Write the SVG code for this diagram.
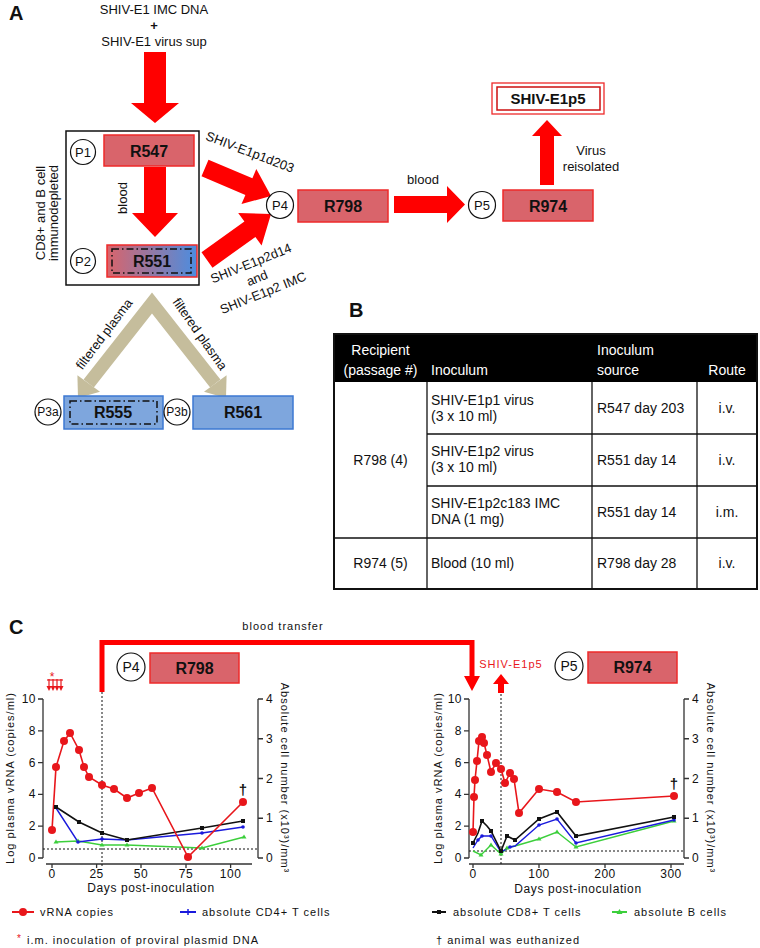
<svg xmlns="http://www.w3.org/2000/svg" width="760" height="948" viewBox="0 0 760 948">
<defs>
<linearGradient id="gp" x1="0" y1="0" x2="1" y2="0"><stop offset="0" stop-color="#d9646b"/><stop offset="1" stop-color="#4b8de0"/></linearGradient>
<style>
text{font-family:"Liberation Sans",Arial,sans-serif;fill:#111}
.lbl{font-size:13px}
.mid{text-anchor:middle}
.nb{font-size:16px;font-weight:bold;text-anchor:middle}
.pc{font-size:13px;text-anchor:middle}
.red{fill:#d9646b;stroke:#ee2a2a;stroke-width:1.5}
.blu{fill:#7ea6dd;stroke:#3d78d2;stroke-width:1.5}
.cir{fill:#fff;stroke:#111;stroke-width:1.2}
.dd{fill:none;stroke:#111;stroke-width:1.5;stroke-dasharray:7 3 1.5 3}
.arr{fill:#ff0000}
.tan{fill:#c5bd9c}
.tb{font-size:14px}
.th{font-size:14px;fill:#fff}
.ax{stroke:#333;stroke-width:1.3;fill:none}
.tk{font-size:12px;letter-spacing:0.5px}
.sp{font-size:11px;letter-spacing:1px}
.dl{stroke:#111;stroke-width:1;stroke-dasharray:2 2;fill:none}
.lr{stroke:#e8161b;stroke-width:1.6;fill:none}
.lk{stroke:#111;stroke-width:1.6;fill:none}
.lb{stroke:#1a1adc;stroke-width:1.4;fill:none}
.lg{stroke:#3ccf3c;stroke-width:1.4;fill:none}
.pr{fill:#e8161b}
.pk{fill:#111}
.pb{fill:#1a1adc}
.pg{fill:#3ccf3c}
</style>
</defs>
<rect width="760" height="948" fill="#fff"/>

<!-- Panel labels -->
<text x="9" y="20" font-size="20" font-weight="bold">A</text>
<text x="349" y="317" font-size="20" font-weight="bold">B</text>
<text x="9" y="634" font-size="20" font-weight="bold">C</text>

<!-- ===== Panel A ===== -->
<g id="source">
<text class="lbl mid" x="154" y="14">SHIV-E1 IMC DNA</text>
<text class="mid" x="154" y="30" font-size="13" font-weight="bold">+</text>
<text class="lbl mid" x="154" y="46">SHIV-E1 virus sup</text>
</g>

<g id="depleted-box">
<rect x="66" y="131" width="133" height="154" fill="none" stroke="#111" stroke-width="1.5"/>
<text class="lbl mid" transform="translate(44.5,213) rotate(-90)">CD8+ and B cell</text>
<text class="lbl mid" transform="translate(57.5,213) rotate(-90)">immunodepleted</text>
</g>

<g id="connectors">
<polygon class="arr" points="144,52 166,52 166,103 179,103 155,123 131,103 144,103"/>
<polygon class="arr" points="144,167 166,167 166,213 178,213 155,237 132,213 144,213"/>
<text class="lbl mid" transform="translate(126.5,198) rotate(-90)">blood</text>
<polygon class="arr" points="208.5,159.7 252.4,178.3 256.3,169.1 271,196 241.5,204.1 245.4,194.9 201.5,176.3"/>
<text class="lbl mid" transform="translate(250,152) rotate(21)" dy="4.5">SHIV-E1p1d203</text>
<polygon class="arr" points="201.5,252.3 244.4,221.5 238.2,213 271,214 261.6,245.4 255.4,236.9 212.5,267.7"/>
<g transform="translate(257,278) rotate(-22)">
<text class="lbl mid" x="0" y="-11.5">SHIV-E1p2d14</text>
<text class="lbl mid" x="0" y="4.5">and</text>
<text class="lbl mid" x="0" y="20.5">SHIV-E1p2 IMC</text>
</g>
<polygon class="arr" points="394,196 447,196 447,186 465,204.5 447,223 447,213 394,213"/>
<text class="lbl mid" x="423" y="184">blood</text>
<polygon class="arr" points="540,185 540,136 532,136 547,120 562,136 554,136 554,185"/>
<text class="lbl mid" x="591" y="155">Virus</text>
<text class="lbl mid" x="591" y="171">reisolated</text>
<polyline points="88.7,383.5 152,303 215.3,383.5" fill="none" stroke="#c5bd9c" stroke-width="13" stroke-linejoin="miter"/>
<polygon class="tan" points="78,398 77.4,375.2 100,391.8"/>
<polygon class="tan" points="226,398 204,391.8 226.6,375.2"/>
<text class="lbl mid" transform="translate(104,334) rotate(-53)" dy="4.5">filtered plasma</text>
<text class="lbl mid" transform="translate(200,334) rotate(55)" dy="4.5">filtered plasma</text>
</g>

<g id="R547">
<circle class="cir" cx="83" cy="152" r="12.5"/><text class="pc" x="83" y="157">P1</text>
<rect class="red" x="104" y="135" width="90" height="31"/>
<text class="nb" x="149" y="157">R547</text>
</g>
<g id="R551">
<circle class="cir" cx="83" cy="261" r="12.5"/><text class="pc" x="83" y="266">P2</text>
<rect x="107" y="245" width="90" height="32" fill="url(#gp)" stroke="#ee2a2a" stroke-width="1.5"/>
<rect class="dd" x="112" y="249" width="79" height="24"/>
<text class="nb" x="152" y="267">R551</text>
</g>
<g id="R798">
<circle class="cir" cx="280" cy="205" r="13.5"/><text class="pc" x="280" y="210">P4</text>
<rect class="red" x="298" y="190" width="90" height="32"/>
<text class="nb" x="343" y="212">R798</text>
</g>
<g id="R974">
<circle class="cir" cx="482" cy="205" r="13.5"/><text class="pc" x="482" y="210">P5</text>
<rect class="red" x="503" y="190" width="90" height="31"/>
<text class="nb" x="548" y="212">R974</text>
</g>
<g id="SHIV-E1p5">
<rect x="492" y="83" width="112" height="31" fill="#fff" stroke="#ee2a2a" stroke-width="1.3"/>
<rect x="497" y="87" width="103" height="23" fill="none" stroke="#cc1111" stroke-width="1.5"/>
<text x="548" y="104" font-size="15" font-weight="bold" text-anchor="middle">SHIV-E1p5</text>
</g>
<g id="R555">
<circle class="cir" cx="48" cy="412" r="13"/><text class="mid" x="48" y="416" font-size="12">P3a</text>
<rect class="blu" x="64" y="396" width="99" height="33"/>
<rect class="dd" x="70" y="401" width="87" height="23"/>
<text class="nb" x="113" y="418">R555</text>
</g>
<g id="R561">
<circle class="cir" cx="177" cy="412" r="13"/><text class="mid" x="177" y="416" font-size="12">P3b</text>
<rect class="blu" x="193" y="396" width="100" height="33"/>
<text class="nb" x="243" y="418">R561</text>
</g>

<!-- ===== Panel B table ===== -->
<g id="table">
<rect x="334" y="334" width="423" height="48" fill="#000"/>
<text class="th mid" x="380.5" y="355">Recipient</text>
<text class="th mid" x="380.5" y="375">(passage #)</text>
<text class="th" x="431" y="375">Inoculum</text>
<text class="th" x="597" y="355">Inoculum</text>
<text class="th" x="597" y="375">source</text>
<text class="th mid" x="727" y="375">Route</text>
<g stroke="#111" stroke-width="1.3">
<line x1="427" y1="382" x2="427" y2="589"/>
<line x1="592" y1="382" x2="592" y2="589"/>
<line x1="697" y1="382" x2="697" y2="589"/>
<line x1="427" y1="434" x2="757" y2="434"/>
<line x1="427" y1="486" x2="757" y2="486"/>
<line x1="334" y1="538" x2="757" y2="538"/>
</g>
<rect x="334" y="334" width="423" height="255" fill="none" stroke="#111" stroke-width="2"/>
<text class="tb mid" x="380.5" y="465">R798 (4)</text>
<text class="tb" x="431" y="405">SHIV-E1p1 virus</text>
<text class="tb" x="431" y="421">(3 x 10 ml)</text>
<text class="tb" x="597" y="413">R547 day 203</text>
<text class="tb mid" x="727" y="413">i.v.</text>
<text class="tb" x="431" y="456">SHIV-E1p2 virus</text>
<text class="tb" x="431" y="472">(3 x 10 ml)</text>
<text class="tb" x="597" y="465">R551 day 14</text>
<text class="tb mid" x="727" y="465">i.v.</text>
<text class="tb" x="431" y="508">SHIV-E1p2c183 IMC</text>
<text class="tb" x="431" y="524">DNA (1 mg)</text>
<text class="tb" x="597" y="517">R551 day 14</text>
<text class="tb mid" x="727" y="517">i.m.</text>
<text class="tb mid" x="380.5" y="568">R974 (5)</text>
<text class="tb" x="431" y="568">Blood (10 ml)</text>
<text class="tb" x="597" y="568">R798 day 28</text>
<text class="tb mid" x="727" y="568">i.v.</text>
</g>

<!-- ===== Panel C ===== -->
<g id="blood-transfer">
<text class="sp mid" x="283" y="630" letter-spacing="1.7">blood transfer</text>
<polyline points="102,692 102,642.5 472,642.5 472,678" fill="none" stroke="#ff0000" stroke-width="5"/>
<polygon class="arr" points="464,676 480,676 472,691"/>
<text class="sp mid" x="511" y="668" style="fill:#e8161b" letter-spacing="1.5">SHIV-E1p5</text>
<polygon class="arr" points="498,693 504,693 504,684 509,684 501,674 493,684 498,684"/>
</g>
<g id="C-P4">
<circle class="cir" cx="131" cy="667" r="14"/><text class="mid" x="131" y="672" font-size="14">P4</text>
<rect class="red" x="150" y="653" width="89" height="30"/>
<text class="nb" x="194.5" y="674">R798</text>
</g>
<g id="C-P5">
<circle class="cir" cx="569" cy="666" r="14"/><text class="mid" x="569" y="671" font-size="14">P5</text>
<rect class="red" x="588" y="652" width="89" height="31"/>
<text class="nb" x="632.5" y="673">R974</text>
</g>

<!-- left chart -->
<g id="chart-R798">
<g fill="#e8161b" stroke="#e8161b">
<text x="52" y="681" font-size="12" text-anchor="middle" style="fill:#e8161b" stroke="none">*</text>
<g stroke-width="1.2"><line x1="49" y1="679" x2="49" y2="688"/><line x1="53" y1="679" x2="53" y2="688"/><line x1="57" y1="679" x2="57" y2="688"/><line x1="61" y1="679" x2="61" y2="688"/><line x1="47" y1="680" x2="63" y2="680"/></g>
<g stroke="none"><polygon points="46.5,686 51.5,686 49,691"/><polygon points="50.5,686 55.5,686 53,691"/><polygon points="54.5,686 59.5,686 57,691"/><polygon points="58.5,686 63.5,686 61,691"/></g>
</g>
<path class="ax" d="M43,699 V858 M38,699 H43 M38,730.8 H43 M38,762.6 H43 M38,794.4 H43 M38,826.2 H43 M38,858 H43"/>
<path class="ax" d="M258,699 V858 M258,699 H263 M258,738.75 H263 M258,778.5 H263 M258,818.25 H263 M258,858 H263" stroke="#555"/>
<path class="ax" d="M46,864 H252 M52,864 V868 M96.6,864 V868 M141,864 V868 M186,864 V868 M230.6,864 V868"/>
<text class="tk" x="36" y="862" text-anchor="end">0</text>
<text class="tk" x="36" y="830" text-anchor="end">2</text>
<text class="tk" x="36" y="798" text-anchor="end">4</text>
<text class="tk" x="36" y="767" text-anchor="end">6</text>
<text class="tk" x="36" y="735" text-anchor="end">8</text>
<text class="tk" x="36" y="703" text-anchor="end">10</text>
<text class="tk" x="266" y="862">0</text>
<text class="tk" x="266" y="822">1</text>
<text class="tk" x="266" y="783">2</text>
<text class="tk" x="266" y="743">3</text>
<text class="tk" x="266" y="703">4</text>
<text class="tk mid" x="52" y="878">0</text>
<text class="tk mid" x="96.6" y="878">25</text>
<text class="tk mid" x="141" y="878">50</text>
<text class="tk mid" x="186" y="878">75</text>
<text class="tk mid" x="230.6" y="878">100</text>
<text class="mid" x="151" y="892" font-size="12" letter-spacing="0.6">Days post-inoculation</text>
<text class="sp mid" transform="translate(14,778) rotate(-90)">Log plasma vRNA (copies/ml)</text>
<text class="sp mid" transform="translate(281,778) rotate(90)" letter-spacing="1.3">Absolute cell number (x10³)/mm³</text>
<line class="dl" x1="43" y1="849" x2="258" y2="849"/>
<line class="dl" x1="102" y1="692" x2="102" y2="866"/>
<path class="lg" d="M56,842 L78,841 L102,845 L127,845 L202,848 L244,837"/>
<path class="lb" d="M56,808 L78,842 L102,839 L127,840 L202,833 L243,827"/>
<path class="lk" d="M56,807 L79,822 L102,833 L127,840 L202,828 L243,821"/>
<path class="lr" d="M52,830 L56,767 L64,741 L70,733 L79,750 L84,767 L89,777 L102,785 L114,789 L127,798 L139,793 L152,788 L188,857 L243,802"/>
<g class="pg"><polygon points="56,839.5 58.5,843.5 53.5,843.5"/><polygon points="78,838.5 80.5,842.5 75.5,842.5"/><polygon points="102,842.5 104.5,846.5 99.5,846.5"/><polygon points="127,842.5 129.5,846.5 124.5,846.5"/><polygon points="202,845.5 204.5,849.5 199.5,849.5"/><polygon points="244,834.5 246.5,838.5 241.5,838.5"/></g>
<g class="pb"><circle cx="78" cy="842" r="1.8"/><circle cx="102" cy="839" r="1.8"/><circle cx="127" cy="840" r="1.8"/><circle cx="202" cy="833" r="1.8"/><circle cx="243" cy="827" r="1.8"/></g>
<g class="pk"><rect x="54" y="805" width="4" height="4"/><rect x="77" y="820" width="4" height="4"/><rect x="100" y="831" width="4" height="4"/><rect x="125" y="838" width="4" height="4"/><rect x="200" y="826" width="4" height="4"/><rect x="241" y="819" width="4" height="4"/></g>
<g class="pr"><circle cx="52" cy="830" r="4"/><circle cx="56" cy="767" r="4"/><circle cx="64" cy="741" r="4"/><circle cx="70" cy="733" r="4"/><circle cx="79" cy="750" r="4"/><circle cx="84" cy="767" r="4"/><circle cx="89" cy="777" r="4"/><circle cx="102" cy="785" r="4"/><circle cx="114" cy="789" r="4"/><circle cx="127" cy="798" r="4"/><circle cx="139" cy="793" r="4"/><circle cx="152" cy="788" r="4"/><circle cx="188" cy="857" r="4"/><circle cx="243" cy="802" r="4"/></g>
<text class="mid" x="243" y="795" font-size="15" font-weight="bold">†</text>
</g>

<!-- right chart -->
<g id="chart-R974">
<path class="ax" d="M469,699 V858 M464,699 H469 M464,730.8 H469 M464,762.6 H469 M464,794.4 H469 M464,826.2 H469 M464,858 H469"/>
<path class="ax" d="M684,699 V858 M684,699 H689 M684,738.75 H689 M684,778.5 H689 M684,818.25 H689 M684,858 H689" stroke="#555"/>
<path class="ax" d="M469,864 H684 M473,864 V868 M539,864 V868 M605,864 V868 M671,864 V868"/>
<text class="tk" x="462" y="862" text-anchor="end">0</text>
<text class="tk" x="462" y="830" text-anchor="end">2</text>
<text class="tk" x="462" y="798" text-anchor="end">4</text>
<text class="tk" x="462" y="767" text-anchor="end">6</text>
<text class="tk" x="462" y="735" text-anchor="end">8</text>
<text class="tk" x="462" y="703" text-anchor="end">10</text>
<text class="tk" x="692" y="862">0</text>
<text class="tk" x="692" y="822">1</text>
<text class="tk" x="692" y="783">2</text>
<text class="tk" x="692" y="743">3</text>
<text class="tk" x="692" y="703">4</text>
<text class="tk mid" x="473" y="878">0</text>
<text class="tk mid" x="539" y="878">100</text>
<text class="tk mid" x="605" y="878">200</text>
<text class="tk mid" x="671" y="878">300</text>
<text class="mid" x="578" y="893" font-size="12" letter-spacing="0.6">Days post-inoculation</text>
<text class="sp mid" transform="translate(442,778) rotate(-90)">Log plasma vRNA (copies/ml)</text>
<text class="sp mid" transform="translate(707,778) rotate(90)" letter-spacing="1.3">Absolute cell number (x10³)/mm³</text>
<line class="dl" x1="469" y1="851" x2="684" y2="851"/>
<line class="dl" x1="501" y1="694" x2="501" y2="866"/>
<path class="lg" d="M473,851 L481,855 L491,845 L501,854 L507,848 L515,846 L539,839 L557,832 L576,847 L674,821"/>
<path class="lb" d="M473,848 L478,840 L482,836 L491,836 L501,852 L510,847 L515,846 L539,825 L557,819 L576,843 L674,820"/>
<path class="lk" d="M473,843 L478,833 L482,821 L487,826 L491,831 L501,851 L507,836 L515,840 L539,819 L557,812 L576,836 L674,817"/>
<path class="lr" d="M473,832 L474,797 L475,780 L477,761 L479,741 L482,737 L484,743 L487,755 L491,772 L496,763 L501,769 L505,783 L510,773 L514,779 L519,813 L539,789 L557,792 L576,802 L674,796"/>
<g class="pg"><polygon points="481,852.5 483.5,856.5 478.5,856.5"/><polygon points="491,842.5 493.5,846.5 488.5,846.5"/><polygon points="501,851.5 503.5,855.5 498.5,855.5"/><polygon points="507,845.5 509.5,849.5 504.5,849.5"/><polygon points="539,836.5 541.5,840.5 536.5,840.5"/><polygon points="557,829.5 559.5,833.5 554.5,833.5"/><polygon points="576,844.5 578.5,848.5 573.5,848.5"/><polygon points="674,818.5 676.5,822.5 671.5,822.5"/></g>
<g class="pb"><circle cx="478" cy="840" r="1.8"/><circle cx="482" cy="836" r="1.8"/><circle cx="491" cy="836" r="1.8"/><circle cx="510" cy="847" r="1.8"/><circle cx="539" cy="825" r="1.8"/><circle cx="557" cy="819" r="1.8"/><circle cx="576" cy="843" r="1.8"/><circle cx="674" cy="820" r="1.8"/></g>
<g class="pk"><rect x="471" y="841" width="4" height="4"/><rect x="480" y="819" width="4" height="4"/><rect x="489" y="829" width="4" height="4"/><rect x="499" y="849" width="4" height="4"/><rect x="505" y="834" width="4" height="4"/><rect x="513" y="838" width="4" height="4"/><rect x="537" y="817" width="4" height="4"/><rect x="555" y="810" width="4" height="4"/><rect x="574" y="834" width="4" height="4"/><rect x="672" y="815" width="4" height="4"/></g>
<g class="pr"><circle cx="473" cy="832" r="4"/><circle cx="474" cy="797" r="4"/><circle cx="475" cy="780" r="4"/><circle cx="477" cy="761" r="4"/><circle cx="479" cy="741" r="4"/><circle cx="482" cy="737" r="4"/><circle cx="484" cy="743" r="4"/><circle cx="487" cy="755" r="4"/><circle cx="491" cy="772" r="4"/><circle cx="496" cy="763" r="4"/><circle cx="501" cy="769" r="4"/><circle cx="505" cy="783" r="4"/><circle cx="510" cy="773" r="4"/><circle cx="514" cy="779" r="4"/><circle cx="519" cy="813" r="4"/><circle cx="539" cy="789" r="4"/><circle cx="557" cy="792" r="4"/><circle cx="576" cy="802" r="4"/><circle cx="674" cy="796" r="4"/></g>
<text class="mid" x="674" y="789" font-size="15" font-weight="bold">†</text>
</g>

<!-- legend -->
<g id="legend">
<line x1="12" y1="912" x2="34" y2="912" stroke="#e8161b" stroke-width="2"/><circle class="pr" cx="23" cy="912" r="4"/>
<text class="sp" x="40" y="916">vRNA copies</text>
<line x1="180" y1="912" x2="196" y2="912" stroke="#1a1adc" stroke-width="2"/><line x1="188" y1="909" x2="188" y2="915" stroke="#1a1adc" stroke-width="1.5"/>
<text class="sp" x="202" y="916">absolute CD4+ T cells</text>
<line x1="432" y1="912" x2="446" y2="912" stroke="#111" stroke-width="2"/><rect class="pk" x="437" y="910" width="4" height="4"/>
<text class="sp" x="453" y="916">absolute CD8+ T cells</text>
<line x1="612" y1="912" x2="627" y2="912" stroke="#3ccf3c" stroke-width="2"/><polygon class="pg" points="619.5,909 622.5,914 616.5,914"/>
<text class="sp" x="634" y="916">absolute B cells</text>
<text x="17" y="942" font-size="10" style="fill:#e8161b">*</text>
<text class="sp" x="27" y="944">i.m. inoculation of proviral plasmid DNA</text>
<text class="sp" x="436" y="944">† animal was euthanized</text>
</g>
</svg>
